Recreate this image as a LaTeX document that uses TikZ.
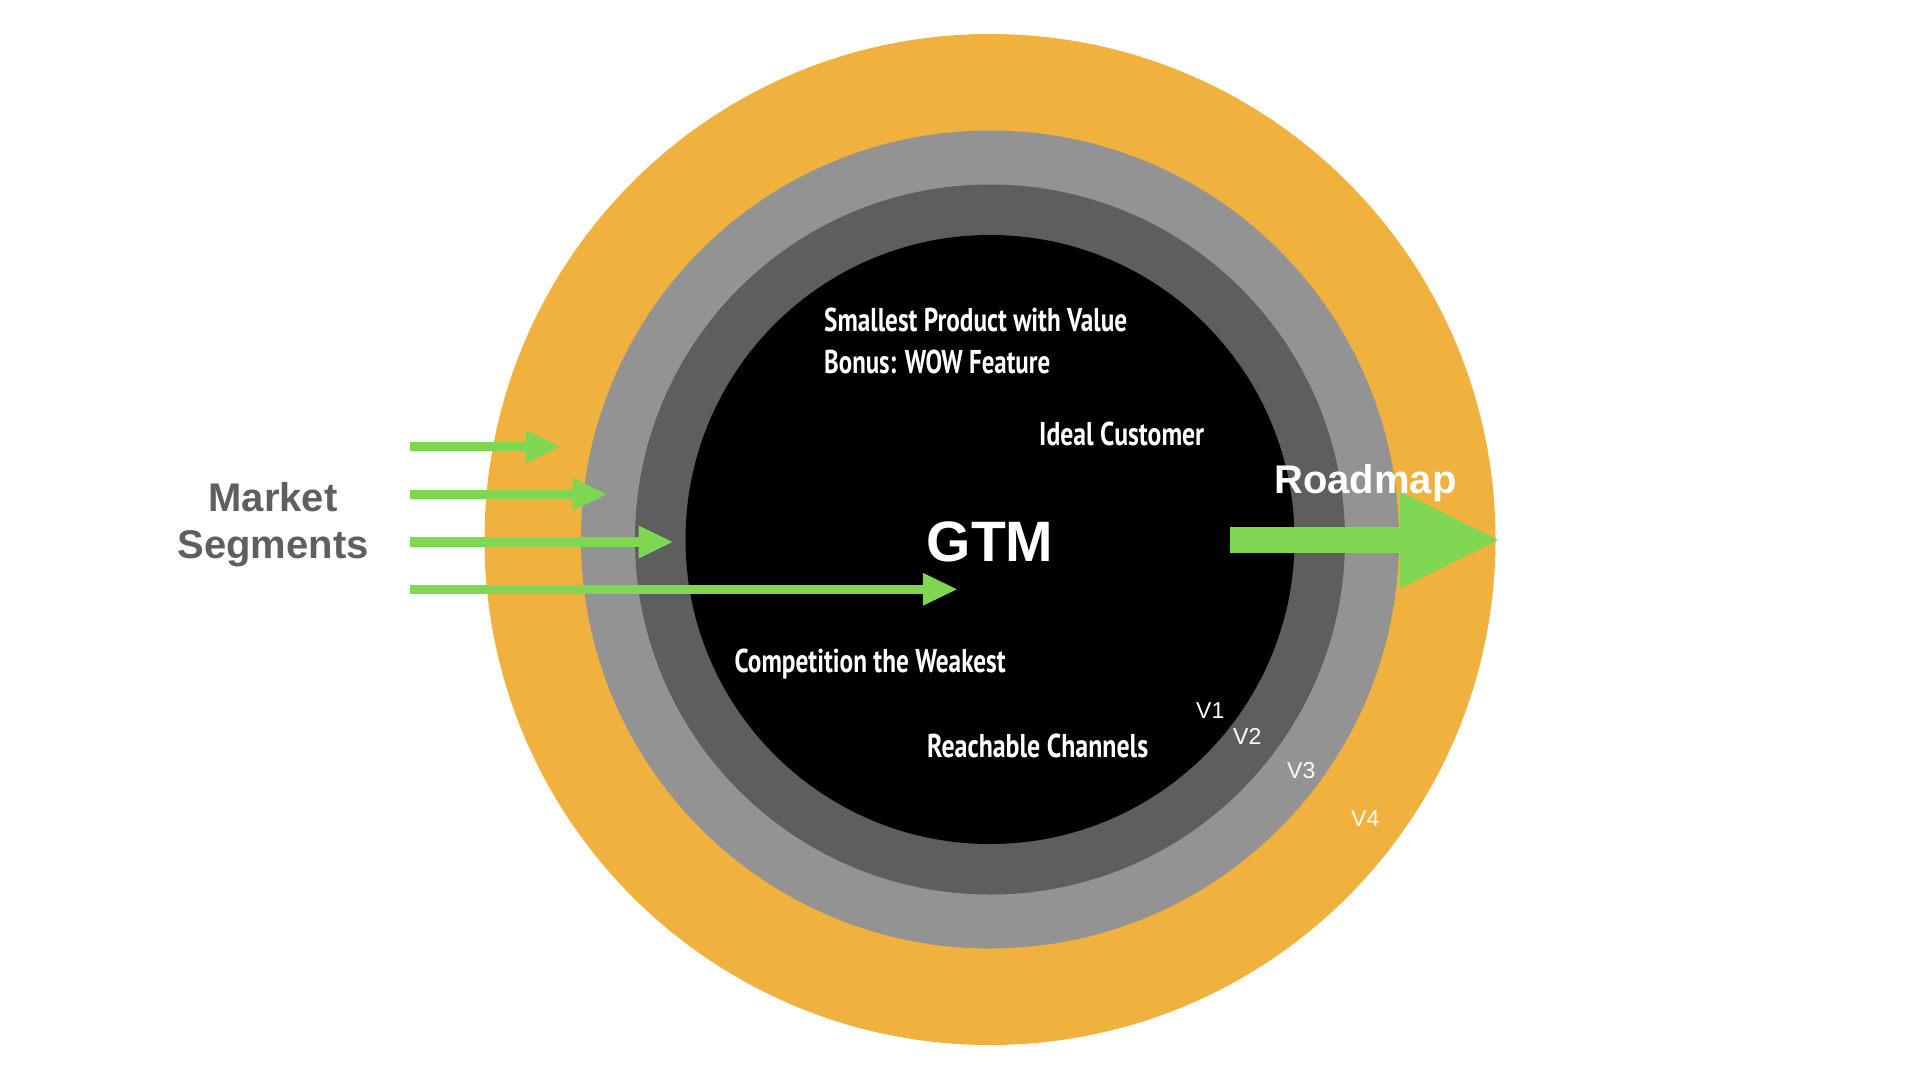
\documentclass[tikz,border=0pt]{standalone}
\usepackage{fontspec}
\setmainfont{Liberation Sans}
\newfontfamily\condfont{PT Sans}
\usetikzlibrary{arrows.meta}
\definecolor{ringorange}{RGB}{240,177,62}
\definecolor{ringlight}{RGB}{147,147,147}
\definecolor{ringdark}{RGB}{94,94,94}
\definecolor{arrowgreen}{RGB}{126,214,82}
\definecolor{labelgray}{RGB}{95,95,95}
\newcommand\condtext[2]{\resizebox{#1}{\height}{\condfont\bfseries\fontsize{33}{36}\selectfont #2}}
\tikzset{
  ring/.style={circle, inner sep=0pt, draw=none},
  condlabel/.style={anchor=base west, inner sep=0pt, text=white},
  vlabel/.style={anchor=base west, inner sep=0pt, text=white, font=\fontsize{23}{26}\selectfont},
  biglabel/.style={inner sep=0pt, font=\bfseries\fontsize{40}{44}\selectfont},
  segarrow/.style={draw=arrowgreen, line width=9.5pt, -{Triangle[length=34pt,width=33pt,line width=0pt]}},
  roadarrow/.style={draw=arrowgreen, line width=26pt, -{Triangle[length=98pt,width=97pt,line width=0pt]}}
}
\begin{document}
\begin{tikzpicture}[x=1pt,y=-1pt]
\useasboundingbox (0,0) rectangle (1920,1080);
\fill[white] (0,0) rectangle (1920,1080);
% rings
\node[ring, fill=ringorange, minimum size=1011pt] (v4ring) at (990,539.5) {};
\node[ring, fill=ringlight, minimum size=818pt] (v3ring) at (990,539.5) {};
\node[ring, fill=ringdark, minimum size=710pt] (v2ring) at (990,539.5) {};
\node[ring, fill=black, minimum size=609pt] (v1ring) at (990,539.5) {};
% market segment arrows
\coordinate (a1s) at (410,446.7);
\coordinate (a1e) at (560,446.7);
\coordinate (a2s) at (410,494.3);
\coordinate (a2e) at (606.7,494.3);
\coordinate (a3s) at (410,542);
\coordinate (a3e) at (672.5,542);
\coordinate (a4s) at (410,589.3);
\coordinate (a4e) at (956.8,589.3);
\draw[segarrow] (a1s) -- (a1e);
\draw[segarrow] (a2s) -- (a2e);
\draw[segarrow] (a3s) -- (a3e);
\draw[segarrow] (a4s) -- (a4e);
% roadmap arrow
\coordinate (rs) at (1230,540);
\coordinate (re) at (1498,540);
\draw[roadarrow] (rs) -- (re);
% labels
\node[biglabel, text=labelgray, anchor=base] (ms1) at (273,511.7) {Market};
\node[biglabel, text=labelgray, anchor=base] (ms2) at (273,558.3) {Segments};
\node[biglabel, text=white, anchor=base west] (road) at (1274,493.3) {Roadmap};
\node[inner sep=0pt, text=white, anchor=base, font=\bfseries\fontsize{57}{60}\selectfont] (gtm) at (990,561.7) {GTM};
\node[condlabel] (smallest) at (824,331.7) {\condtext{303pt}{Smallest Product with Value}};
\node[condlabel] (bonus) at (824,373.3) {\condtext{226pt}{Bonus: WOW Feature}};
\node[condlabel] (ideal) at (1039,445.7) {\condtext{165pt}{Ideal Customer}};
\node[condlabel] (comp) at (734.5,672.5) {\condtext{271pt}{Competition the Weakest}};
\node[condlabel] (reach) at (927,757.3) {\condtext{221pt}{Reachable Channels}};
\node[vlabel] (v1) at (1196,718.3) {V1};
\node[vlabel] (v2) at (1233,744.3) {V2};
\node[vlabel] (v3) at (1287,778.3) {V3};
\node[vlabel] (v4) at (1351,826) {V4};
\end{tikzpicture}
\end{document}
